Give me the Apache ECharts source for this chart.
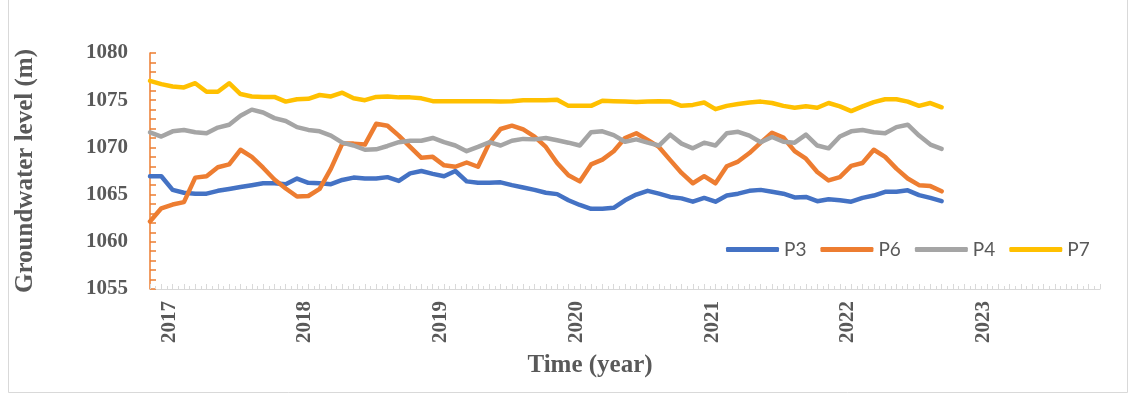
<!DOCTYPE html>
<html>
<head>
<meta charset="utf-8">
<title>Groundwater level</title>
<script src="https://cdn.jsdelivr.net/npm/echarts@6/dist/echarts.min.js"></script>
<style>
  html, body { margin: 0; padding: 0; background: #ffffff; }
  #chart { width: 1135px; height: 397px; }
</style>
</head>
<body>
<div id="chart"></div>
<script>
// Monthly groundwater levels (m), January 2017 to November 2022
const startYear = 2017;
const monthsOnAxis = 84;

const P3 = [
  1066.95, 1066.95, 1065.5, 1065.2, 1065.1, 1065.1, 1065.4, 1065.6, 1065.8, 1066.0, 1066.2, 1066.2,
  1066.1, 1066.7, 1066.25, 1066.2, 1066.1, 1066.55, 1066.8, 1066.7, 1066.7, 1066.85, 1066.45, 1067.25,
  1067.5, 1067.2, 1066.95, 1067.5, 1066.4, 1066.25, 1066.25, 1066.3, 1066.0, 1065.75, 1065.5, 1065.2,
  1065.05, 1064.4, 1063.9, 1063.5, 1063.5, 1063.6, 1064.4, 1065.0, 1065.4, 1065.1, 1064.75, 1064.6,
  1064.25, 1064.65, 1064.25, 1064.9, 1065.1, 1065.4, 1065.5, 1065.3, 1065.1, 1064.7, 1064.75, 1064.3,
  1064.5, 1064.4, 1064.25, 1064.65, 1064.9, 1065.3, 1065.3, 1065.45, 1064.95, 1064.65, 1064.3
];
const P6 = [
  1062.15, 1063.55, 1063.95, 1064.2, 1066.8, 1066.95, 1067.9, 1068.2, 1069.75, 1069.0, 1067.85, 1066.6,
  1065.65, 1064.8, 1064.85, 1065.6, 1067.75, 1070.4, 1070.4, 1070.3, 1072.5, 1072.3, 1071.25, 1070.05,
  1068.9, 1069.0, 1068.1, 1067.95, 1068.4, 1067.95, 1070.45, 1071.95, 1072.3, 1071.9, 1071.15, 1070.05,
  1068.35, 1067.05, 1066.4, 1068.2, 1068.7, 1069.6, 1071.0, 1071.5, 1070.8, 1070.05, 1068.65, 1067.3,
  1066.2, 1066.95, 1066.2, 1068.0, 1068.5, 1069.4, 1070.5, 1071.55, 1071.05, 1069.6, 1068.8, 1067.4,
  1066.5, 1066.85, 1068.05, 1068.35, 1069.75, 1069.0, 1067.75, 1066.7, 1066.0, 1065.9, 1065.35
];
const P4 = [
  1071.6, 1071.15, 1071.7, 1071.85, 1071.6, 1071.5, 1072.1, 1072.4, 1073.35, 1074.0, 1073.7, 1073.1,
  1072.8, 1072.15, 1071.85, 1071.7, 1071.25, 1070.5, 1070.2, 1069.75, 1069.8, 1070.15, 1070.55, 1070.7,
  1070.7, 1071.0, 1070.55, 1070.2, 1069.6, 1070.05, 1070.55, 1070.2, 1070.7, 1070.9, 1070.85, 1071.0,
  1070.75, 1070.5, 1070.2, 1071.6, 1071.7, 1071.3, 1070.6, 1070.85, 1070.5, 1070.2, 1071.35, 1070.4,
  1069.9, 1070.5, 1070.2, 1071.5, 1071.65, 1071.25, 1070.55, 1071.1, 1070.6, 1070.5, 1071.35, 1070.2,
  1069.9, 1071.15, 1071.7, 1071.85, 1071.6, 1071.5, 1072.15, 1072.4, 1071.25, 1070.3, 1069.85
];
const P7 = [
  1077.05, 1076.7, 1076.45, 1076.35, 1076.8, 1075.9, 1075.9, 1076.8, 1075.65, 1075.4, 1075.35, 1075.35,
  1074.85, 1075.1, 1075.15, 1075.55, 1075.4, 1075.8, 1075.2, 1075.0, 1075.35, 1075.4, 1075.3, 1075.3,
  1075.2, 1074.9, 1074.9, 1074.9, 1074.9, 1074.9, 1074.9, 1074.85, 1074.9, 1075.0, 1075.0, 1075.0,
  1075.05, 1074.4, 1074.4, 1074.4, 1074.95, 1074.9, 1074.85, 1074.8, 1074.85, 1074.9, 1074.85, 1074.4,
  1074.5, 1074.75, 1074.05, 1074.4, 1074.6, 1074.75, 1074.85, 1074.7, 1074.4, 1074.2, 1074.35, 1074.2,
  1074.7, 1074.35, 1073.85, 1074.35, 1074.8, 1075.1, 1075.1, 1074.85, 1074.4, 1074.7, 1074.25
];

const seriesNames = ['P3', 'P6', 'P4', 'P7'];
const seriesValues = [P3, P6, P4, P7];
const seriesColors = ['#4472C4', '#ED7D31', '#A5A5A5', '#FFC000'];

const yTicks = [1055, 1060, 1065, 1070, 1075, 1080];

const serif = '"Liberation Serif", "Times New Roman", serif';
const textGrey = '#595959';

const chart = echarts.init(document.getElementById('chart'), null, { renderer: 'canvas' });

chart.setOption({
  animation: false,
  backgroundColor: '#ffffff',
  graphic: [{
    type: 'rect',
    shape: { x: 8.5, y: -2, width: 1119, height: 394.5 },
    style: { fill: 'none', stroke: '#D9D9D9', lineWidth: 1 },
    silent: true
  }],
  grid: { left: 150, right: 35, top: 53, bottom: 108 },
  legend: {
    data: seriesNames,
    left: 721,
    top: 235,
    icon: 'roundRect',
    itemWidth: 53,
    itemHeight: 5,
    itemGap: 14,
    textStyle: { fontFamily: 'Lato, "Open Sans", sans-serif', fontSize: 19, color: textGrey }
  },
  xAxis: {
    type: 'value',
    min: 0,
    max: monthsOnAxis,
    interval: 1,
    name: 'Time (year)',
    nameLocation: 'middle',
    nameGap: 64,
    nameTextStyle: {
      fontFamily: serif, fontWeight: 'bold', fontSize: 25, color: textGrey,
      padding: [0, 70, 0, 0]
    },
    axisLine: { show: true, lineStyle: { color: '#D9D9D9', width: 1 } },
    axisTick: { show: true, inside: true, length: 5, lineStyle: { color: '#D9D9D9' } },
    minorTick: { show: true, splitNumber: 2, length: 3, lineStyle: { color: '#D9D9D9' } },
    splitLine: { show: false },
    minorSplitLine: { show: false },
    axisLabel: {
      rotate: 90,
      margin: 12,
      verticalAlign: 'top',
      lineHeight: 16,
      fontFamily: serif, fontWeight: 'bold', fontSize: 21, color: textGrey,
      formatter: function (v) {
        return (v % 12 === 1) ? String(startYear + (v - 1) / 12) : '';
      }
    }
  },
  yAxis: {
    type: 'value',
    min: yTicks[0],
    max: yTicks[yTicks.length - 1],
    interval: 5,
    name: 'Groundwater level (m)',
    nameLocation: 'middle',
    nameRotate: 90,
    nameGap: 112,
    nameTextStyle: { fontFamily: serif, fontWeight: 'bold', fontSize: 25, color: textGrey },
    axisLine: { show: true, lineStyle: { color: '#ED7D31', width: 1.5 } },
    axisTick: { show: true, inside: true, length: 6, lineStyle: { color: '#ED7D31', width: 1.5 } },
    minorTick: { show: true, splitNumber: 5, length: 6, lineStyle: { color: '#ED7D31', width: 1.5 } },
    splitLine: { show: false },
    axisLabel: {
      margin: 22,
      fontFamily: serif, fontWeight: 'bold', fontSize: 21, color: textGrey,
      formatter: function (v) { return String(v); }
    }
  },
  series: seriesNames.map(function (name, k) {
    return {
      name: name,
      type: 'line',
      showSymbol: false,
      symbol: 'none',
      smooth: false,
      color: seriesColors[k],
      lineStyle: { width: 4.5, color: seriesColors[k], cap: 'round', join: 'round' },
      data: seriesValues[k].map(function (v, i) { return [i, v]; })
    };
  })
});
</script>
</body>
</html>
